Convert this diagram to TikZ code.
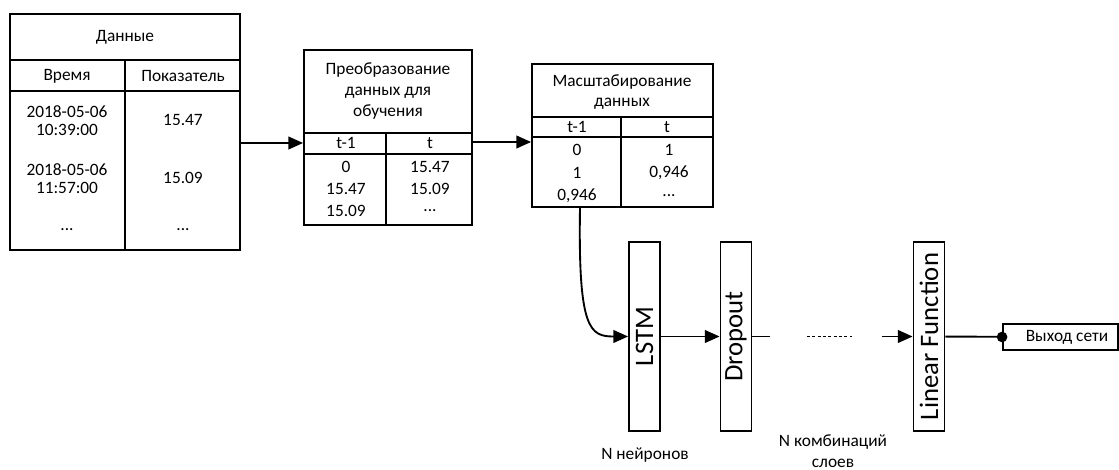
\documentclass[tikz,border=0pt]{standalone}
\usepackage{fontspec}
\setmainfont{Carlito}
\usepackage{graphicx}
\usepackage{tikz}
\usetikzlibrary{arrows.meta,fit}

\begin{document}
\begin{tikzpicture}[x=0.75pt,y=-0.75pt,line width=1.4pt,
    txt/.style={font=\fontsize{13}{14}\selectfont, align=center, inner sep=0pt},
    tbl/.style={draw, inner sep=0pt},
    layer/.style={draw, inner sep=0pt, minimum width=23.25pt, minimum height=141.75pt,
                  font=\fontsize{20}{22}\selectfont},
    arr/.style={-{Triangle[length=11pt,width=9.5pt]}}]
    \useasboundingbox (0,0) rectangle (1119,470);

    % source data
    \node[tbl, fit={(10,14) (240,250)}] (data) {};
    \draw (10,60) -- (240,60);
    \draw (10,91) -- (240,91);
    \draw (125,60) -- (125,250);
    \node[txt] (d0) at (125,37) {Данные};
    \node[txt] (d1) at (67,76) {Время};
    \node[txt] (d2) at (183,76) {Показатель};
    \node[txt, font=\fontsize{13}{13.5}\selectfont] (d3) at (67,121) {2018-05-06\\10:39:00};
    \node[txt] (d4) at (183,120) {15.47};
    \node[txt, font=\fontsize{13}{13.5}\selectfont] (d5) at (67,179) {2018-05-06\\11:57:00};
    \node[txt] (d6) at (183,178) {15.09};
    \node[txt] (d7) at (67,230) {...};
    \node[txt] (d8) at (183,230) {...};

    % shifted data
    \node[tbl, fit={(304,50) (472,225)}] (prep) {};
    \draw (304,133) -- (472,133);
    \draw (304,154) -- (472,154);
    \draw (386,133) -- (386,225);
    \node[txt, font=\fontsize{13}{15.5}\selectfont] (p0) at (388,91) {Преобразование\\данных для\\обучения};
    \node[txt] (p1) at (346,143) {t-1};
    \node[txt] (p2) at (430,143) {t};
    \node[txt] (p3) at (346,167) {0};
    \node[txt] (p4) at (430,167) {15.47};
    \node[txt] (p5) at (346,189) {15.47};
    \node[txt] (p6) at (430,189) {15.09};
    \node[txt] (p7) at (346,211) {15.09};
    \node[txt] (p8) at (430,211) {...};

    % scaled data
    \node[tbl, fit={(532,64) (713,207)}] (scale) {};
    \draw (532,117) -- (713,117);
    \draw (532,137) -- (713,137);
    \draw (621,117) -- (621,207);
    \node[txt, font=\fontsize{13}{15.5}\selectfont] (s0) at (622,92) {Масштабирование\\данных};
    \node[txt] (s1) at (577,127) {t-1};
    \node[txt] (s2) at (667,127) {t};
    \node[txt] (s3) at (577,150) {0};
    \node[txt] (s4) at (669,150) {1};
    \node[txt] (s5) at (577,173) {1};
    \node[txt] (s6) at (669,173) {0,946};
    \node[txt] (s7) at (577,196) {0,946};
    \node[txt] (s8) at (669,196) {...};

    \draw[arr] (data.east |- 0,143) -- (prep.west |- 0,143);
    \draw[arr] (prep.east |- 0,142) -- (scale.west |- 0,142);

    % network
    \node[layer] (lstm) at (644.5,336.5) {\rotatebox{90}{LSTM}};
    \node[layer] (drop) at (736,336.5) {\rotatebox{90}{Dropout}};
    \node[layer] (lin) at (929,336.5) {\rotatebox{90}{Linear Function}};
    \node[tbl, fit={(1003,324) (1118,350)}] (out) {};
    \node[txt] (o1) at (1067,337) {Выход сети};

    \draw[arr] (scale.south -| 580,0) .. controls (578,330) and (590,336.5) .. (lstm.west);
    \draw[arr] (lstm) -- (drop);
    \coordinate (g1) at (770,336.5);
    \coordinate (g2) at (807,336.5);
    \coordinate (g3) at (852,336.5);
    \coordinate (g4) at (882,336.5);
    \draw (drop) -- (g1);
    \draw[dash pattern=on 2.2pt off 1.8pt] (g2) -- (g3);
    \draw[arr] (g4) -- (lin);
    \draw (lin) -- (out);
    \fill (out.west) circle (4pt);

    \node[txt] (n1) at (645,455) {N нейронов};
    \node[txt, font=\fontsize{13}{16}\selectfont] (n2) at (833,451) {N комбинаций\\слоев};
  \end{tikzpicture}
\end{document}
